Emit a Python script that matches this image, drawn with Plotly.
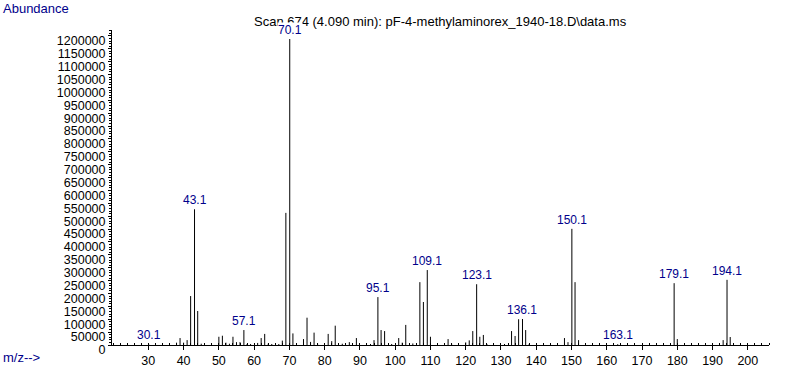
import plotly.graph_objects as go

# ---- data ----
mz = [30.1, 38, 39, 40, 41, 42, 43.1, 44, 45, 50, 51, 52, 53, 54, 55, 56, 57.1, 58, 59,
      61, 62, 63, 64, 65, 67, 68, 69, 70.1, 71, 74, 75, 76, 77, 78, 81, 82, 83, 85, 87,
      89, 93, 94, 95.1, 96, 97, 99, 101, 102, 103, 105, 107, 108, 109.1, 110, 115, 116,
      120, 121, 122, 123.1, 124, 125, 126, 131, 133, 134, 135, 136.1, 137, 138, 148, 149,
      150.1, 151, 152, 163.1, 179.1, 180, 193, 194.1, 195]
abundance = [3000, 9000, 27000, 9000, 19000, 190000, 527000, 132000, 5000, 32000, 36000,
             9000, 5000, 32000, 11000, 11000, 58000, 4000, 4000,
             8000, 27000, 43000, 5000, 4000, 4000, 17000, 513000, 1188000, 45000, 23000,
             106000, 12000, 48000, 5000, 43000, 15000, 75000, 5000, 11000,
             27000, 4000, 19000, 186000, 58000, 54000, 4000, 27000, 9000, 78000, 6000,
             244000, 167000, 291000, 32000, 23000, 5000,
             10000, 18000, 54000, 236000, 32000, 39000, 4000, 4000, 54000, 35000, 100000,
             101000, 58000, 4000, 27000, 11000,
             451000, 244000, 19000, 3000, 240000, 23000, 19000, 253000, 31000]
labeled_mz = [30.1, 43.1, 57.1, 70.1, 95.1, 109.1, 123.1, 136.1, 150.1, 163.1, 179.1, 194.1]
x_ticks = list(range(30, 201, 10))
y_ticks = list(range(0, 1200001, 50000))
title_text = "Scan 674 (4.090 min): pF-4-methylaminorex_1940-18.D\\data.ms"
y_title = "Abundance"
x_title = "m/z-->"

# ---- layout constants ----
W, H = 787, 367
L, R, T, B = 112, 18, 30, 22
PW, PH = W - L - R, H - T - B
NAVY = "#00008B"
FONT = "Liberation Sans"


def px_x(px):
    return (px - L) / PW


def px_y(py):
    return (H - B - py) / PH


xs, ys = [], []
for m, a in zip(mz, abundance):
    xs += [m, m, None]
    ys += [0, a, None]

fig = go.Figure()
fig.add_trace(go.Scatter(x=xs, y=ys, mode="lines",
                         line=dict(color="black", width=1),
                         hoverinfo="skip", showlegend=False))

annotations = [
    dict(text=title_text, xref="paper", yref="paper", x=0.5, y=px_y(21),
         xanchor="center", yanchor="middle", showarrow=False,
         font=dict(family=FONT, size=13, color="black")),
    dict(text=y_title, xref="paper", yref="paper", x=px_x(1), y=px_y(8),
         xanchor="left", yanchor="middle", showarrow=False,
         font=dict(family=FONT, size=13, color=NAVY)),
    dict(text=x_title, xref="paper", yref="paper", x=px_x(1), y=px_y(357),
         xanchor="left", yanchor="middle", showarrow=False,
         font=dict(family=FONT, size=13, color=NAVY)),
]
lookup = dict(zip(mz, abundance))
for m in labeled_mz:
    annotations.append(dict(text=f"{m:.1f}", x=m, y=lookup[m], xref="x", yref="y",
                            xanchor="center", yanchor="bottom", yshift=1,
                            showarrow=False, bgcolor="white", borderpad=0,
                            font=dict(family=FONT, size=12, color=NAVY)))

fig.update_layout(
    width=W, height=H,
    margin=dict(l=L, r=R, t=T, b=B, pad=0, autoexpand=False),
    paper_bgcolor="white", plot_bgcolor="white",
    showlegend=False,
    annotations=annotations,
    xaxis=dict(range=[19.7, 206], tickmode="array", tickvals=x_ticks,
               ticktext=[str(v) for v in x_ticks], automargin=False,
               ticks="outside", ticklen=4, tickwidth=1, tickcolor="black",
               showline=True, linecolor="black", linewidth=1,
               showgrid=False, zeroline=False,
               tickfont=dict(family=FONT, size=12.5, color="black"),
               minor=dict(tickmode="linear", tick0=0, dtick=2, ticks="inside",
                          ticklen=2, tickwidth=1, tickcolor="black", showgrid=False)),
    yaxis=dict(range=[0, 1223000], tickmode="array", tickvals=y_ticks,
               ticktext=[str(v) for v in y_ticks], automargin=False,
               ticks="outside", ticklen=3, tickwidth=1, tickcolor="black",
               ticklabelshift=5,
               showline=True, linecolor="black", linewidth=1,
               showgrid=False, zeroline=False,
               tickfont=dict(family=FONT, size=12.5, color="black"),
               minor=dict(tickmode="linear", tick0=0, dtick=10000, ticks="outside",
                          ticklen=2, tickwidth=1, tickcolor="black", showgrid=False)),
)

fig.write_html("out.html", config={"displayModeBar": False},
               post_script="document.body.style.margin='0';")
